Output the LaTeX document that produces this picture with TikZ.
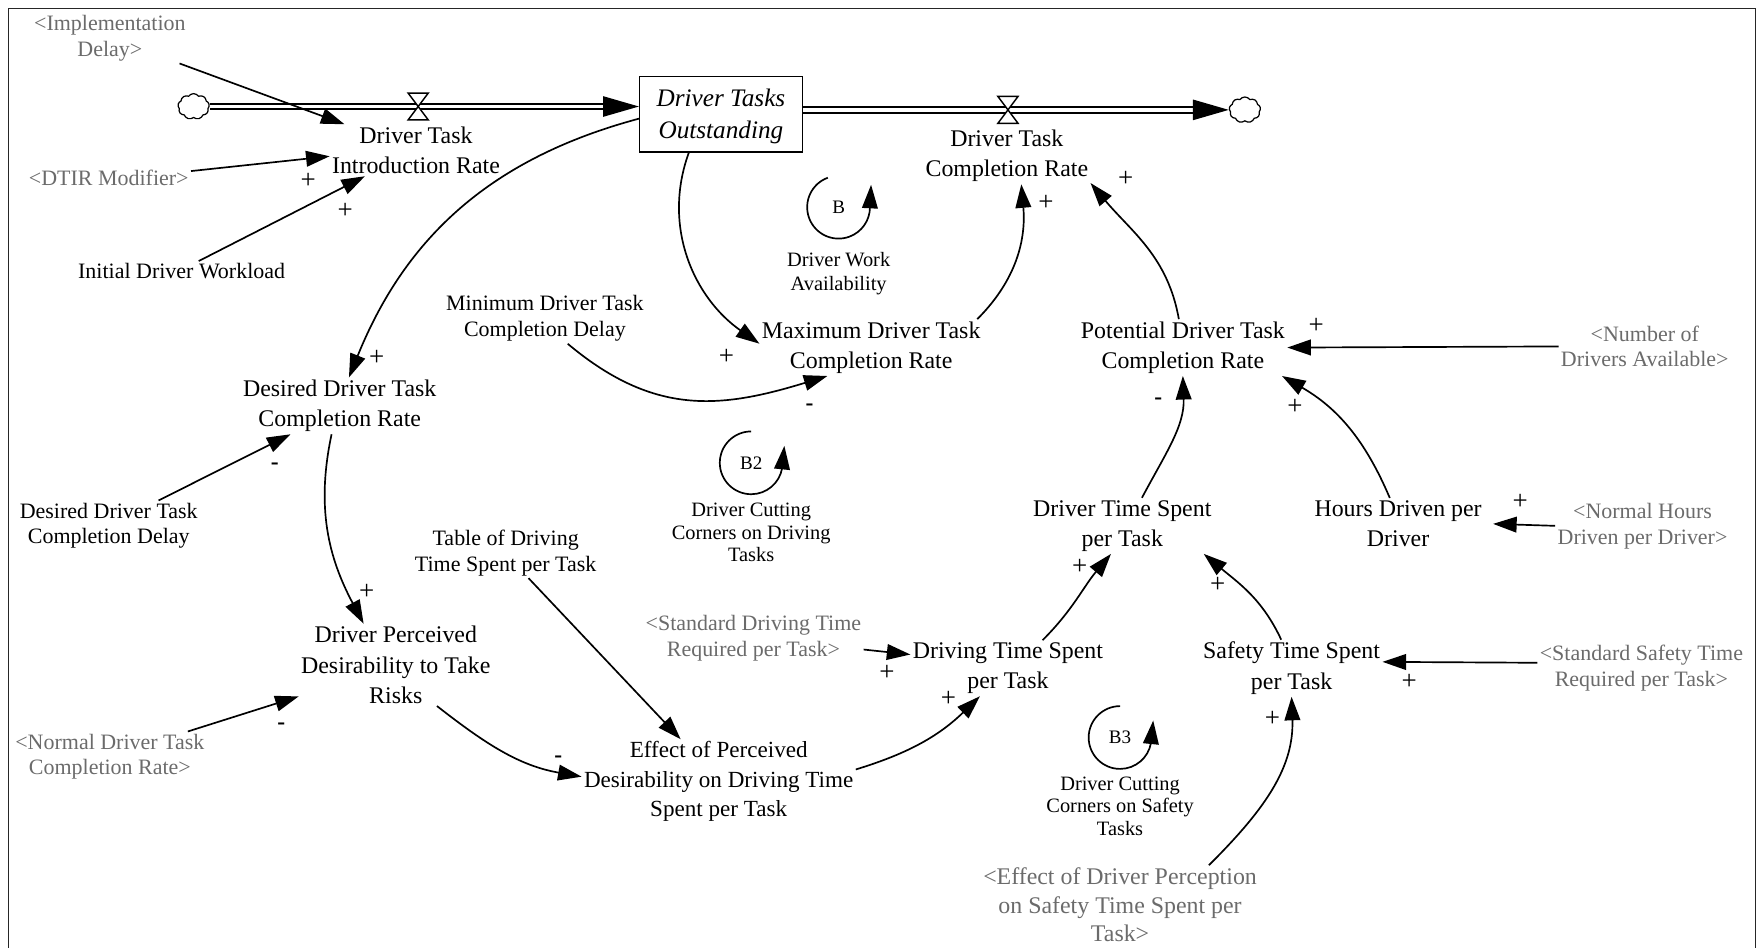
\documentclass[tikz,border=0pt]{standalone}
\usepackage{fontspec}
\setmainfont{Liberation Serif}
\usetikzlibrary{positioning,arrows.meta,shapes.symbols}

\begin{document}
\begin{tikzpicture}[
on grid,
varnode/.style={align=center, inner sep=2pt, font=\fontsize{21.3}{27}\selectfont},
stocknode/.style={draw=black, line width=1.2pt, align=center, minimum width=145pt, minimum height=67pt, inner sep=0pt, font=\itshape\fontsize{22.5}{28}\selectfont},
auxnode/.style={align=center, inner sep=2pt, font=\fontsize{19.6}{23}\selectfont},
shadownode/.style={auxnode, text=black!58},
loopnode/.style={circle, minimum size=56pt, inner sep=0pt, font=\fontsize{17}{18}\selectfont},
loopname/.style={align=center, inner sep=2pt, font=\fontsize{18.2}{20}\selectfont},
plusmark/.style={inner sep=0pt, font=\fontsize{24}{24}\selectfont},
minusmark/.style={inner sep=0pt, font=\bfseries\fontsize{21}{21}\selectfont},
cloudnode/.style={cloud, cloud puffs=9, cloud puff arc=110, draw=black, line width=1.1pt, minimum width=28pt, minimum height=23pt, inner sep=0pt},
link/.style={->, >={Stealth[inset=0pt, length=21pt, width=14pt]}, line width=1.5pt},
pipe/.style={->, >={Stealth[inset=0pt, length=32pt, width=18pt]}, line width=1.8pt, double, double distance=3pt},
valve/.style={draw=black, fill=white, line width=1.3pt}
]
    \useasboundingbox (0,0) rectangle (1568pt,-845.5pt);
    \draw[line width=1.2pt, draw=black!85] (7.5pt,-846pt) -- (7.5pt,-7.5pt) -- (1566pt,-7.5pt) -- (1566pt,-846pt);

    %Nodes
    \node[stocknode]
        (stock)     at (643pt,-102pt)   {\rule{0pt}{19pt}Driver Tasks\\Outstanding};
    \node[varnode]
        (dtiRate)   [below left=32pt and 272pt of stock]    {Driver Task\\Introduction Rate};
    \node[varnode]
        (dtcRate)   [below right=37pt and 255pt of stock]   {Driver Task\\Completion Rate};
    \coordinate[above right=39pt and 2pt of dtiRate]    (valveIn);
    \coordinate[above right=41pt and 1pt of dtcRate]    (valveOut);
    \node[cloudnode]
        (cloudIn)   [left=186pt of valveIn]     {};
    \node[cloudnode]
        (cloudOut)  [right=197pt of valveOut]   {};
    \node[shadownode]
        (implDelay) [above left=100pt and 273pt of dtiRate]     {<Implementation\\Delay>};
    \node[shadownode]
        (dtirModifier)  [below left=25pt and 274pt of dtiRate]  {<DTIR Modifier>};
    \node[auxnode]
        (initialWorkload)   [below right=83pt and 65pt of dtirModifier] {Initial Driver Workload};
    \node[loopnode]
        (loopB)     [below right=83pt and 105pt of stock]   {B};
    \node[loopname]
        (workAvail) [below=59pt of loopB]   {Driver Work\\[2pt]Availability};
    \node[varnode]
        (maxRate)   [below right=208pt and 134pt of stock]  {Maximum Driver Task\\Completion Rate};
    \node[auxnode]
        (minDelay)  [above left=26pt and 291pt of maxRate]  {Minimum Driver Task\\Completion Delay};
    \node[varnode]
        (potentialRate) [right=278pt of maxRate]    {Potential Driver Task\\Completion Rate};
    \node[shadownode]
        (numberDrivers) [above right=1pt and 412pt of potentialRate]  {<Number of\\Drivers Available>};
    \node[varnode]
        (desiredRate)   [below left=260pt and 340pt of stock]   {Desired Driver Task\\Completion Rate};
    \node[auxnode]
        (desiredDelay)  [below left=107pt and 206pt of desiredRate] {Desired Driver Task\\Completion Delay};
    \node[loopnode]
        (loopBtwo)  [below left=103pt and 107pt of maxRate] {B2};
    \node[loopname]
        (cuttingDriving)    [below=62pt of loopBtwo]    {Driver Cutting\\Corners on Driving\\Tasks};
    \node[varnode]
        (driverTime)    [below left=159pt and 54pt of potentialRate]    {Driver Time Spent\\per Task};
    \node[varnode]
        (hoursDriven)   [above right=2pt and 246pt of driverTime] {Hours Driven per\\Driver};
    \node[shadownode]
        (normalHours)   [below right=2pt and 218pt of hoursDriven]    {<Normal Hours\\Driven per Driver>};
    \node[varnode]
        (perceivedRisk) [below right=231pt and 50pt of desiredRate] {Driver Perceived\\Desirability to Take\\Risks};
    \node[auxnode]
        (tableDriving)  [above right=100pt and 98pt of perceivedRisk]   {Table of Driving\\Time Spent per Task};
    \node[shadownode]
        (normalCompletion)  [below left=82pt and 255pt of perceivedRisk]    {<Normal Driver Task\\Completion Rate>};
    \node[varnode, font=\fontsize{20.6}{26}\selectfont]
        (effectDesire)  [below right=104pt and 288pt of perceivedRisk]  {Effect of Perceived\\Desirability on Driving Time\\Spent per Task};
    \node[shadownode]
        (stdDriving)    [above right=128pt and 31pt of effectDesire]    {<Standard Driving Time\\Required per Task>};
    \node[varnode]
        (drivingTime)   [below left=127pt and 102pt of driverTime]  {Driving Time Spent\\per Task};
    \node[varnode]
        (safetyTime)    [right=253pt of drivingTime]    {Safety Time Spent\\per Task};
    \node[shadownode]
        (stdSafety)     [right=312pt of safetyTime] {<Standard Safety Time\\Required per Task>};
    \node[loopnode]
        (loopBthree)    [below right=62pt and 100pt of drivingTime] {B3};
    \node[loopname]
        (cuttingSafety) [below=61pt of loopBthree]  {Driver Cutting\\Corners on Safety\\Tasks};
    \node[shadownode, font=\fontsize{21.3}{25.5}\selectfont]
        (perception)    [below=88pt of cuttingSafety]   {<Effect of Driver Perception\\on Safety Time Spent per\\Task>};

    %Polarity marks
    \node[plusmark]  (pDtir)    [below left=27pt and 96pt of dtiRate]   {+};
    \node[plusmark]  (pInit)    [below left=54pt and 63pt of dtiRate]   {+};
    \node[plusmark]  (pDesired) [above right=43pt and 33pt of desiredRate]  {+};
    \node[plusmark]  (pMaxStock)    [below left=8pt and 129pt of maxRate]   {+};
    \node[plusmark]  (pMaxDtc)  [below right=42pt and 35pt of dtcRate]  {+};
    \node[plusmark]  (pPotDtc)  [below right=21pt and 106pt of dtcRate] {+};
    \node[plusmark]  (pNumber)  [above right=19pt and 119pt of potentialRate]   {+};
    \node[plusmark]  (pHours)   [below right=53pt and 100pt of potentialRate]   {+};
    \node[minusmark] (mTime)    [below left=48pt and 22pt of potentialRate] {-};
    \node[minusmark] (mMin)     [below left=53pt and 55pt of maxRate]   {-};
    \node[minusmark] (mDelay)   [below left=54pt and 58pt of desiredRate]   {-};
    \node[plusmark]  (pPerceived)   [above left=65pt and 26pt of perceivedRisk] {+};
    \node[minusmark] (mNormal)  [below left=55pt and 102pt of perceivedRisk]    {-};
    \node[minusmark] (mEffect)  [above left=20pt and 143pt of effectDesire] {-};
    \node[plusmark]  (pStdDriving)  [below left=4pt and 108pt of drivingTime]   {+};
    \node[plusmark]  (pEffect)  [below left=27pt and 53pt of drivingTime]   {+};
    \node[plusmark]  (pDriving) [below left=37pt and 38pt of driverTime]    {+};
    \node[plusmark]  (pSafety)  [below right=53pt and 85pt of driverTime]   {+};
    \node[plusmark]  (pNormalHours) [above right=19pt and 109pt of hoursDriven] {+};
    \node[plusmark]  (pStdSafety)   [below right=12pt and 105pt of safetyTime]  {+};
    \node[plusmark]  (pPerception)  [below left=45pt and 17pt of safetyTime]    {+};

    %Pipes
    \draw[pipe] (cloudIn.east) -- (cloudIn.east -| stock.west);
    \draw[pipe] (stock.east |- cloudOut.west) -- (cloudOut.west);
    \draw[valve] (valveIn) ++(-9pt,12pt) -- ++(18pt,0) -- ++(-18pt,-24pt) -- ++(18pt,0) -- cycle;
    \draw[valve] (valveOut) ++(-9pt,12pt) -- ++(18pt,0) -- ++(-18pt,-24pt) -- ++(18pt,0) -- cycle;

    %Lines
    \draw[link] (implDelay.-20) -- (dtiRate.160);
    \draw[link] (dtirModifier.5) -- (dtiRate.184);
    \draw[link] (initialWorkload.31) -- (dtiRate.207);
    \draw[link] (stock.183) to[out=195, in=68] (desiredRate.72);
    \draw[link] (stock.230) to[out=250, in=145] (maxRate.178);
    \draw[link] (maxRate.15) to[out=45, in=-85] (dtcRate.297);
    \draw[link] (potentialRate.98) to[out=100, in=-50] (dtcRate.-18);
    \draw[link] (numberDrivers.west) -- (potentialRate.east);
    \draw[link] (hoursDriven.108) to[out=113, in=-30] (potentialRate.-16);
    \draw[link, shorten >=8pt] (normalHours.west) -- (hoursDriven.east);
    \draw[link] (driverTime.55) to[out=62, in=-88] (potentialRate.south);
    \draw[link] (drivingTime.39) to[out=45, in=230] (driverTime.248);
    \draw[link] (safetyTime.110) to[out=115, in=-40] (driverTime.-19);
    \draw[link] (stdSafety.177) -- (safetyTime.4);
    \draw[link] (perception.24) to[out=45, in=-88] (safetyTime.south);
    \draw[link] (stdDriving.-6) -- (drivingTime.172);
    \draw[link] (effectDesire.5) to[out=17, in=224] (drivingTime.225);
    \draw[link] (perceivedRisk.-45) to[out=-38, in=170] (effectDesire.178);
    \draw[link] (normalCompletion.18) -- (perceivedRisk.198);
    \draw[link] (desiredDelay.27) -- (desiredRate.210);
    \draw[link] (desiredRate.254) to[out=258, in=118] (perceivedRisk.128);
    \draw[link] (minDelay.-48) to[out=-40, in=197, looseness=1.1] (maxRate.213);
    \draw[link] (tableDriving.-48) -- (effectDesire.132);

    %Loops
    \draw[link] (loopB.110) arc[start angle=110, end angle=360, radius=28pt] -- ++(1pt,20pt);
    \draw[link] (loopBtwo.90) arc[start angle=90, end angle=350, radius=28pt] -- ++(2pt,20pt);
    \draw[link] (loopBthree.90) arc[start angle=90, end angle=350, radius=28pt] -- ++(2pt,20pt);
\end{tikzpicture}
\end{document}
